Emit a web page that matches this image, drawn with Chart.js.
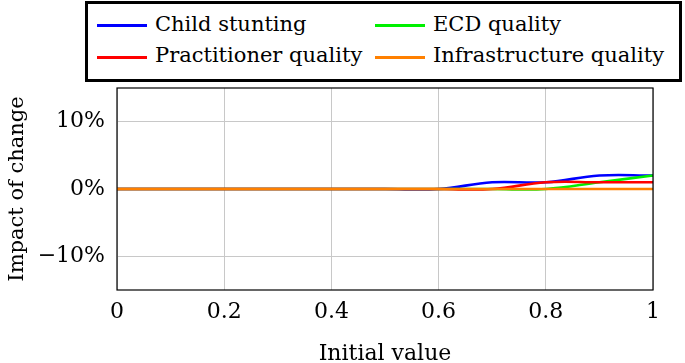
<!DOCTYPE html>
<html>
<head>
<title>Impact of change</title>
<script src="https://cdn.jsdelivr.net/npm/chart.js@4.4.0/dist/chart.umd.min.js"></script>
<style type="text/css">
	body{ margin:0; background:#fff; font-family:'DejaVu Serif', serif; }
	#wrap{ position:relative; width:685px; height:363px; }
	#legend{
		position:absolute; left:85px; top:1px; width:591px; height:75px;
		border:3px solid #000; background:#fff;
		font-family:'DejaVu Serif', serif; font-size:21px; line-height:21px; color:#000;
	}
	.ln{ position:absolute; width:50px; height:3px; }
	.tx{ position:absolute; white-space:nowrap; }
</style>
</head>
<body>
<div id="wrap">
	<canvas id="myChart" width="685" height="363"></canvas>
	<div id="legend"></div>
</div>
<script>
	// data
	const xValues = [0, 0.1, 0.2, 0.3, 0.4, 0.5, 0.6, 0.7, 0.8, 0.9, 1.0];
	const childStunting = [0, 0, 0, 0, 0, 0, 0, 1, 1, 2, 2];
	const ecdQuality = [0, 0, 0, 0, 0, 0, 0, 0, 0, 1, 2];
	const practitionerQuality = [0, 0, 0, 0, 0, 0, 0, 0, 1, 1, 1];
	const infrastructureQuality = [0, 0, 0, 0, 0, 0, 0, 0, 0, 0, 0];
	const xTicks = [0, 0.2, 0.4, 0.6, 0.8, 1];
	const yTicks = [-10, 0, 10];

	const font = { family: "'DejaVu Serif', serif", size: 22 };
	const pts = ys => xValues.map((x, i) => ({ x: x, y: ys[i] }));

	const series = [
		{ label: 'Child stunting', data: childStunting, color: '#0000ff', order: 3, col: 0, row: 0 },
		{ label: 'ECD quality', data: ecdQuality, color: '#00f000', order: 2, col: 1, row: 0 },
		{ label: 'Practitioner quality', data: practitionerQuality, color: '#ff0000', order: 1, col: 0, row: 1 },
		{ label: 'Infrastructure quality', data: infrastructureQuality, color: '#ff8000', order: 0, col: 1, row: 1 }
	];

	// legend box (two columns, like the original)
	const legend = document.getElementById('legend');
	series.forEach(s => {
		let x = s.col ? 287 : 9;
		let ln = document.createElement('div');
		ln.className = 'ln';
		ln.style.left = x + 'px';
		ln.style.top = (s.row ? 52 : 20) + 'px';
		ln.style.background = s.color;
		legend.appendChild(ln);
		let tx = document.createElement('div');
		tx.className = 'tx';
		tx.style.left = (x + 58) + 'px';
		tx.style.top = (s.row ? 41 : 10) + 'px';
		tx.textContent = s.label;
		legend.appendChild(tx);
	});

	const frame = {
		id: 'frame',
		afterDatasetsDraw(chart) {
			const a = chart.chartArea, c = chart.ctx;
			c.save();
			c.strokeStyle = '#000';
			c.lineWidth = 1.2;
			c.strokeRect(a.left, a.top, a.right - a.left, a.bottom - a.top);
			c.restore();
		}
	};

	let ctx = document.getElementById('myChart').getContext('2d');
	new Chart(ctx, {
		type: 'line',
		data: {
			datasets: series.map(s => ({
				label: s.label,
				data: pts(s.data),
				borderColor: s.color,
				backgroundColor: s.color,
				borderWidth: 2.6,
				pointRadius: 0,
				tension: 0.4,
				order: s.order
			}))
		},
		options: {
			responsive: false,
			animation: false,
			layout: { padding: { top: 88, right: 32, left: 0, bottom: 0 } },
			plugins: { legend: { display: false }, tooltip: { enabled: false } },
			scales: {
				x: {
					type: 'linear', min: 0, max: 1,
					afterBuildTicks: s => { s.ticks = xTicks.map(v => ({ value: v })); },
					afterFit: s => { s.height = 73; },
					grid: { color: '#c8c8c8', drawTicks: false },
					border: { display: false },
					ticks: { font: font, color: '#000', padding: 9, maxRotation: 0, callback: v => String(+v.toFixed(1)) },
					title: { display: true, text: 'Initial value', font: { family: font.family, size: 22, lineHeight: 0.8 }, color: '#000', padding: { top: 0, bottom: 0 } }
				},
				y: {
					min: -15, max: 15,
					afterBuildTicks: s => { s.ticks = yTicks.map(v => ({ value: v })); },
					afterFit: s => { s.width = 117; },
					grid: { color: '#c8c8c8', drawTicks: false },
					border: { display: false },
					ticks: {
						font: font, color: '#000', padding: 12,
						callback: v => (v < 0 ? '\u2212' + Math.abs(v) : v) + '%'
					},
					title: { display: true, text: 'Impact of change', font: { family: font.family, size: 21 }, color: '#000', padding: { top: 5, bottom: 0 } }
				}
			}
		},
		plugins: [frame]
	});
</script>
</body>
</html>
